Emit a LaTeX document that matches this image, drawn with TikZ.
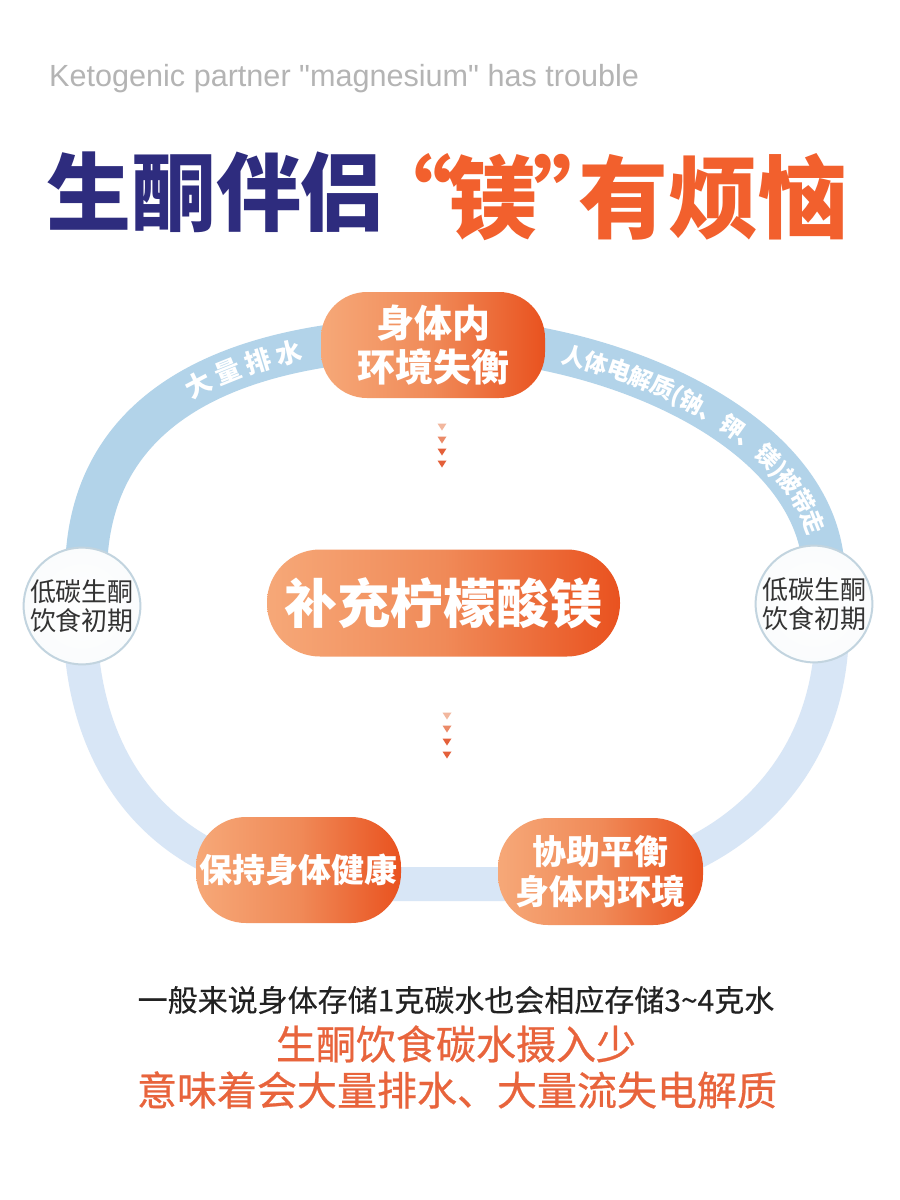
\documentclass[tikz,border=0pt]{standalone}
\usepackage{fontspec}
\newfontfamily\cjk{Noto Sans CJK SC}
\newfontfamily\cjkm[FakeBold=0.6]{Noto Sans CJK SC}
\newfontfamily\cjkl[FakeBold=0.3]{Noto Sans CJK SC}
\newfontfamily\lat{Liberation Sans}
\usetikzlibrary{decorations.text}
\definecolor{navy}{HTML}{2E2C7E}
\definecolor{tor}{HTML}{F2602D}
\definecolor{bandA}{HTML}{B2D3E9}
\definecolor{bandB}{HTML}{D8E6F6}
\definecolor{orL}{HTML}{F6A878}
\definecolor{orM}{HTML}{F08A58}
\definecolor{orR}{HTML}{E9521F}
\definecolor{txtor}{HTML}{E8643C}
\definecolor{ringC}{HTML}{C2D4DF}
\definecolor{subg}{HTML}{B4B4B4}
\definecolor{triC}{HTML}{E4603A}
\definecolor{triB}{HTML}{EB8A68}
\definecolor{triP}{HTML}{F2B79E}
\definecolor{darkT}{HTML}{222222}
\definecolor{circT}{HTML}{333333}
\tikzset{
  pill/.style={left color=orL, right color=orR, middle color=orM, text=white, align=center, inner sep=0pt, font=\cjk\bfseries},
  circnode/.style={circle, draw=ringC, line width=2pt, inner color=white, outer color=white!92!ringC, minimum size=113pt, inner sep=0pt, align=center, text=circT, font=\cjk\fontsize{26}{29}\selectfont},
  tridown/.pic={\fill (-4.5,-3.5) -- (4.5,-3.5) -- (0,3.5) -- cycle;},
  bandtext/.style={decorate, decoration={text along path, raise=-9.5pt, text align={left indent=#1}}},
  tcjk/.style={anchor=base, inner sep=0pt, text=tor, font=\cjk\bfseries\fontsize{90}{90}\selectfont}
}
\begin{document}
\begin{tikzpicture}[x=1pt,y=-1pt]
\fill[white] (0,0) rectangle (900,1200);
\useasboundingbox (0,0) rectangle (900,1200);

% subtitle and title
\node[anchor=base west, inner sep=0pt, font=\lat\fontsize{30.6}{30.6}\selectfont, text=subg] (sub) at (49,86) {Ketogenic partner "magnesium" has trouble};
\node[inner sep=0pt, font=\cjk\bfseries\fontsize{85}{85}\selectfont, text=navy] (t1) at (216,192) {生酮伴侣};
\node[tcjk] (t2) at (605.25,231) {“\kern-4.5pt 镁\kern-4.5pt ”\kern-44.5pt 有烦恼};

% ring
\draw[bandB, line width=34pt] (80,620) .. controls (82,800) and (200,884) .. (330,884) -- (560,884) .. controls (700,884) and (835,790) .. (832,620);
\draw[bandA, line width=42pt] (80,640) -- (86,575) .. controls (86,390) and (260,338) .. (440,338) .. controls (610,340) and (822,430) .. (824,575) -- (832,640);

\path[bandtext=220pt, decoration={text={|\cjk\bfseries\fontsize{26}{26}\selectfont\color{white}|大 量 排 水}}] (86,575) .. controls (86,390) and (260,338) .. (440,338);
\path[bandtext=124pt, decoration={text={|\cjk\bfseries\fontsize{23.5}{23.5}\selectfont\color{white}|人体电解质(钠、钾、镁)被带走}}] (440,338) .. controls (610,340) and (822,430) .. (824,575);

% nodes
\node[pill, minimum width=224pt, minimum height=106pt, rounded corners=46pt, font=\cjk\bfseries\fontsize{38}{44}\selectfont] (imb) at (433,345) {身体内\\环境失衡};
\node[pill, minimum width=353pt, minimum height=107pt, rounded corners=53pt, font=\cjk\bfseries\fontsize{53}{53}\selectfont] (mg) at (443.5,603) {补充柠檬酸镁};
\node[pill, minimum width=205pt, minimum height=106pt, rounded corners=50pt, font=\cjk\bfseries\fontsize{33}{33}\selectfont] (keep) at (298.5,870) {保持身体健康};
\node[pill, minimum width=205pt, minimum height=107pt, rounded corners=50pt, font=\cjk\bfseries\fontsize{34}{40}\selectfont] (bal) at (600.5,871.5) {协助平衡\\身体内环境};
\node[circnode] (lc) at (82,606) {低碳生酮\\饮食初期};
\node[circnode] (rc) at (814,604) {低碳生酮\\饮食初期};

% small arrow triangles
\foreach \yy/\cc in {427/triP,440/triB,452/triC,464/triC}
  \pic[fill=\cc] at (442,\yy) {tridown};
\foreach \yy/\cc in {716/triP,729/triB,742/triC,755/triC}
  \pic[fill=\cc] at (447,\yy) {tridown};

% bottom text
\node[inner sep=0pt, font=\cjkl\fontsize{30}{30}\selectfont, text=darkT] (n1) at (456,1000) {一般来说身体存储1克碳水也会相应存储3\textasciitilde 4克水};
\node[inner sep=0pt, font=\cjkm\fontsize{40}{40}\selectfont, text=txtor] (n2) at (456,1044) {生酮饮食碳水摄入少};
\node[inner sep=0pt, font=\cjkm\fontsize{40}{40}\selectfont, text=txtor] (n3) at (457,1090) {意味着会大量排水、大量流失电解质};
\end{tikzpicture}
\end{document}
